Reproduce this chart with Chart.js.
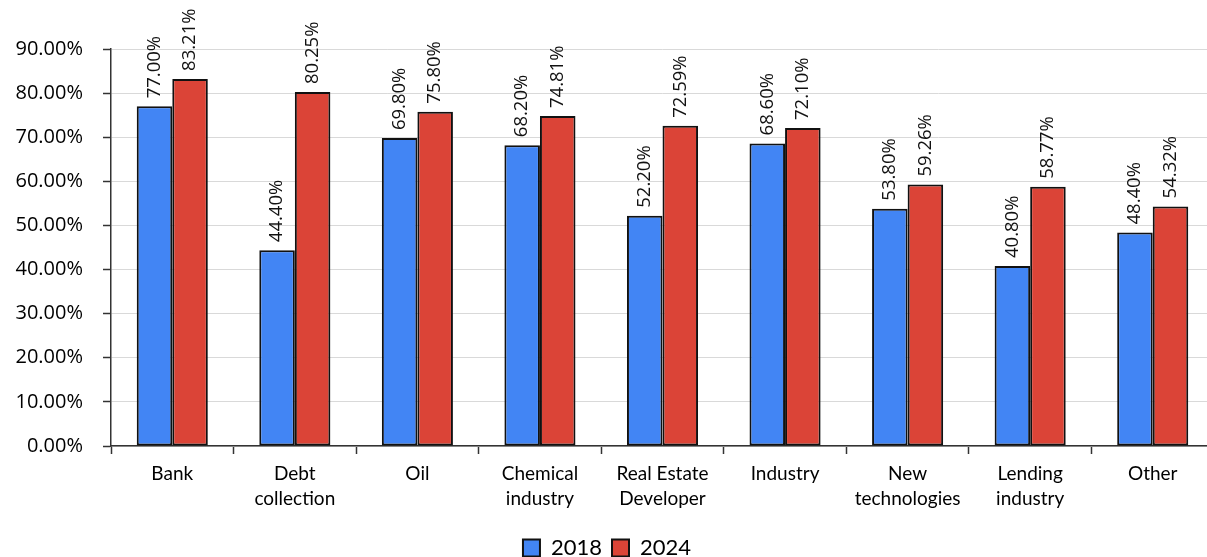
<!DOCTYPE html>
<html>
<head>
<meta charset="utf-8">
<script src="https://cdn.jsdelivr.net/npm/chart.js@4.4.1/dist/chart.umd.min.js"></script>
<style>
  html, body { margin: 0; padding: 0; background: #fff; overflow: hidden; }
  canvas { display: block; }
</style>
</head>
<body>
<canvas id="graph" width="1216" height="557"></canvas>
<script>
var sectors = [
    'Bank', ['Debt', 'collection'], 'Oil', ['Chemical', 'industry'],
    ['Real Estate', 'Developer'], 'Industry', ['New', 'technologies'],
    ['Lending', 'industry'], 'Other'
];
var share2018 = [77.00, 44.40, 69.80, 68.20, 52.20, 68.60, 53.80, 40.80, 48.40];
var share2024 = [83.21, 80.25, 75.80, 74.81, 72.59, 72.10, 59.26, 58.77, 54.32];
var yTicks = [0, 10, 20, 30, 40, 50, 60, 70, 80, 90];

// percentage written vertically above each bar
var barLabels = {
    id: 'barLabels',
    afterDatasetsDraw: function (chart) {
        var c = chart.ctx;
        c.save();
        c.font = '18.5px "Open Sans"';
        c.fillStyle = '#111';
        c.textAlign = 'left';
        c.textBaseline = 'middle';
        chart.data.datasets.forEach(function (ds, i) {
            chart.getDatasetMeta(i).data.forEach(function (bar, j) {
                c.save();
                c.translate(bar.x, bar.y - 8);
                c.rotate(-Math.PI / 2);
                c.fillText(ds.data[j].toFixed(2) + '%', 0, 0);
                c.restore();
            });
        });
        c.restore();
    }
};

var ctx = document.getElementById('graph');
var graph = new Chart(ctx, {
    type: 'bar',
    data: {
        labels: sectors,
        datasets: [{
            label: '2018',
            data: share2018,
            backgroundColor: '#4285f4',
            borderColor: '#111',
            borderWidth: 2,
            borderSkipped: false
        }, {
            label: '2024',
            data: share2024,
            backgroundColor: '#db4437',
            borderColor: '#111',
            borderWidth: 2,
            borderSkipped: false
        }]
    },
    options: {
        responsive: false,
        animation: false,
        layout: { padding: { top: 49, right: 2, bottom: -12, left: 0 } },
        datasets: {
            bar: { categoryPercentage: 0.58, barPercentage: 1.0 }
        },
        plugins: {
            legend: {
                position: 'bottom',
                labels: {
                    boxWidth: 17,
                    boxHeight: 17,
                    padding: 10,
                    color: '#000',
                    font: { family: 'Lato', size: 22 }
                }
            },
            tooltip: { enabled: false }
        },
        scales: {
            x: {
                grid: {
                    offset: true,
                    drawOnChartArea: false,
                    drawTicks: true,
                    tickLength: 8,
                    tickColor: '#333',
                    tickWidth: 1.5
                },
                border: { color: '#333', width: 1.5 },
                ticks: {
                    color: '#000',
                    padding: 8,
                    maxRotation: 0,
                    autoSkip: false,
                    font: { family: 'Lato', size: 19, lineHeight: 1.3 }
                },
                afterFit: function (scale) { scale.height = 81; }
            },
            y: {
                min: 0,
                max: 90,
                afterBuildTicks: function (scale) {
                    scale.ticks = yTicks.map(function (v) { return { value: v }; });
                },
                grid: {
                    color: '#d9d9d9',
                    lineWidth: 1,
                    tickLength: 8,
                    tickColor: '#333',
                    tickWidth: 1.5
                },
                border: { color: '#333', width: 1.5 },
                ticks: {
                    color: '#000',
                    padding: 20,
                    font: { family: '"Open Sans"', size: 20 },
                    callback: function (v) { return v.toFixed(2) + '%'; }
                },
                afterFit: function (scale) { scale.width = 111; }
            }
        }
    },
    plugins: [barLabels]
});
</script>
</body>
</html>
